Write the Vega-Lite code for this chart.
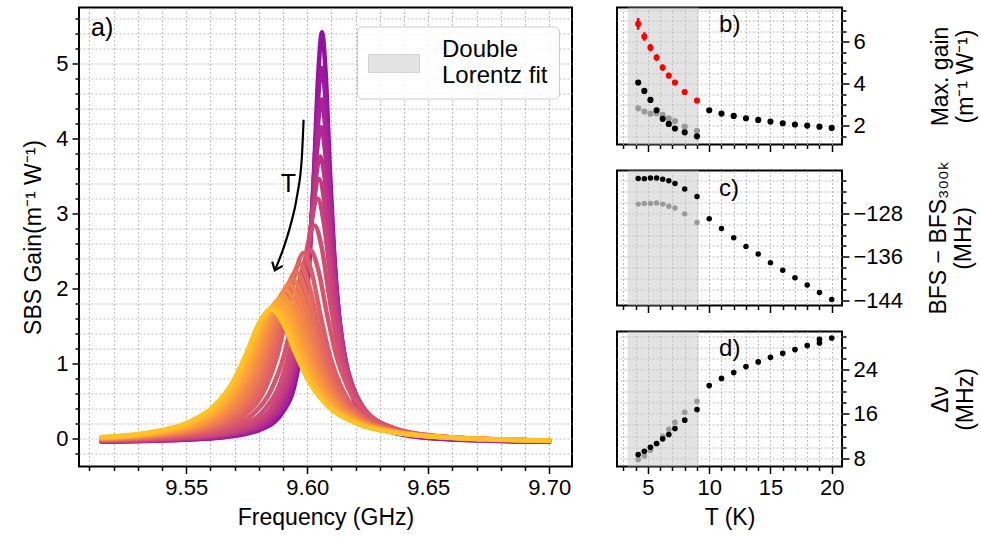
{
  "$schema": "https://vega.github.io/schema/vega-lite/v6.json",
  "background": "white",
  "padding": {"left": 21, "top": 6.5, "right": 0, "bottom": 0},
  "config": {
    "font": "Liberation Sans",
    "view": {"stroke": "black", "strokeWidth": 2},
    "axis": {
      "domain": false,
      "labelFont": "Liberation Sans", "labelFontSize": 22, "labelColor": "black",
      "titleFont": "Liberation Sans", "titleFontSize": 23, "titleFontWeight": "normal", "titleColor": "black",
      "tickColor": "black", "tickWidth": 1.5, "tickCount": 200,
      "gridColor": "#b5b5b5", "gridDash": [2, 2], "gridWidth": 0.9,
      "labelFlush": false, "labelOverlap": false, "labelPadding": 4
    },
    "text": {"font": "Liberation Sans", "color": "black"}
  },
  "datasets": {
    "spec": [
      {"T":4.2,"f":9.515,"g":-0.046},{"T":4.2,"f":9.5371,"g":-0.036},{"T":4.2,"f":9.5647,"g":0.007},{"T":4.2,"f":9.5808,"g":0.115},{"T":4.2,"f":9.59,"g":0.354},{"T":4.2,"f":9.5951,"g":0.75},{"T":4.2,"f":9.5987,"g":1.479},{"T":4.2,"f":9.601,"g":2.42},{"T":4.2,"f":9.6029,"g":3.618},{"T":4.2,"f":9.6045,"g":4.822},{"T":4.2,"f":9.6061,"g":5.42},{"T":4.2,"f":9.6077,"g":4.822},{"T":4.2,"f":9.6093,"g":3.618},{"T":4.2,"f":9.6112,"g":2.42},{"T":4.2,"f":9.6135,"g":1.479},{"T":4.2,"f":9.6171,"g":0.75},{"T":4.2,"f":9.6222,"g":0.354},{"T":4.2,"f":9.6314,"g":0.115},{"T":4.2,"f":9.6475,"g":0.007},{"T":4.2,"f":9.6751,"g":-0.036},{"T":4.2,"f":9.7,"g":-0.047},
      {"T":4.7,"f":9.515,"g":-0.045},{"T":4.7,"f":9.5303,"g":-0.038},{"T":4.7,"f":9.5606,"g":0.001},{"T":4.7,"f":9.5782,"g":0.1},{"T":4.7,"f":9.5883,"g":0.318},{"T":4.7,"f":9.5939,"g":0.68},{"T":4.7,"f":9.5979,"g":1.345},{"T":4.7,"f":9.6004,"g":2.203},{"T":4.7,"f":9.6025,"g":3.296},{"T":4.7,"f":9.6042,"g":4.395},{"T":4.7,"f":9.606,"g":4.94},{"T":4.7,"f":9.6078,"g":4.395},{"T":4.7,"f":9.6095,"g":3.296},{"T":4.7,"f":9.6116,"g":2.203},{"T":4.7,"f":9.6141,"g":1.345},{"T":4.7,"f":9.6181,"g":0.68},{"T":4.7,"f":9.6237,"g":0.318},{"T":4.7,"f":9.6338,"g":0.1},{"T":4.7,"f":9.6515,"g":0.001},{"T":4.7,"f":9.6818,"g":-0.038},{"T":4.7,"f":9.7,"g":-0.046},
      {"T":5.2,"f":9.515,"g":-0.043},{"T":5.2,"f":9.5234,"g":-0.04},{"T":5.2,"f":9.5564,"g":-0.004},{"T":5.2,"f":9.5757,"g":0.087},{"T":5.2,"f":9.5866,"g":0.286},{"T":5.2,"f":9.5927,"g":0.617},{"T":5.2,"f":9.5971,"g":1.227},{"T":5.2,"f":9.5998,"g":2.012},{"T":5.2,"f":9.602,"g":3.014},{"T":5.2,"f":9.604,"g":4.02},{"T":5.2,"f":9.6059,"g":4.52},{"T":5.2,"f":9.6078,"g":4.02},{"T":5.2,"f":9.6098,"g":3.014},{"T":5.2,"f":9.612,"g":2.012},{"T":5.2,"f":9.6147,"g":1.227},{"T":5.2,"f":9.6191,"g":0.617},{"T":5.2,"f":9.6252,"g":0.286},{"T":5.2,"f":9.6361,"g":0.087},{"T":5.2,"f":9.6554,"g":-0.004},{"T":5.2,"f":9.6884,"g":-0.04},{"T":5.2,"f":9.7,"g":-0.044},
      {"T":5.7,"f":9.515,"g":-0.042},{"T":5.7,"f":9.5517,"g":-0.009},{"T":5.7,"f":9.5727,"g":0.075},{"T":5.7,"f":9.5847,"g":0.258},{"T":5.7,"f":9.5913,"g":0.563},{"T":5.7,"f":9.5961,"g":1.123},{"T":5.7,"f":9.5991,"g":1.845},{"T":5.7,"f":9.6015,"g":2.765},{"T":5.7,"f":9.6036,"g":3.691},{"T":5.7,"f":9.6057,"g":4.15},{"T":5.7,"f":9.6078,"g":3.691},{"T":5.7,"f":9.6099,"g":2.765},{"T":5.7,"f":9.6123,"g":1.845},{"T":5.7,"f":9.6153,"g":1.123},{"T":5.7,"f":9.6201,"g":0.563},{"T":5.7,"f":9.6267,"g":0.258},{"T":5.7,"f":9.6387,"g":0.075},{"T":5.7,"f":9.6597,"g":-0.009},{"T":5.7,"f":9.6957,"g":-0.041},{"T":5.7,"f":9.7,"g":-0.043},
      {"T":6.2,"f":9.515,"g":-0.04},{"T":6.2,"f":9.546,"g":-0.013},{"T":6.2,"f":9.5691,"g":0.062},{"T":6.2,"f":9.5823,"g":0.228},{"T":6.2,"f":9.5896,"g":0.505},{"T":6.2,"f":9.5948,"g":1.013},{"T":6.2,"f":9.5981,"g":1.669},{"T":6.2,"f":9.6008,"g":2.504},{"T":6.2,"f":9.6031,"g":3.343},{"T":6.2,"f":9.6054,"g":3.76},{"T":6.2,"f":9.6077,"g":3.343},{"T":6.2,"f":9.61,"g":2.504},{"T":6.2,"f":9.6127,"g":1.669},{"T":6.2,"f":9.616,"g":1.013},{"T":6.2,"f":9.6212,"g":0.505},{"T":6.2,"f":9.6285,"g":0.228},{"T":6.2,"f":9.6417,"g":0.062},{"T":6.2,"f":9.6648,"g":-0.013},{"T":6.2,"f":9.7,"g":-0.041},
      {"T":6.7,"f":9.515,"g":-0.038},{"T":6.7,"f":9.5406,"g":-0.017},{"T":6.7,"f":9.5656,"g":0.053},{"T":6.7,"f":9.5799,"g":0.206},{"T":6.7,"f":9.5877,"g":0.461},{"T":6.7,"f":9.5935,"g":0.929},{"T":6.7,"f":9.597,"g":1.533},{"T":6.7,"f":9.5999,"g":2.302},{"T":6.7,"f":9.6024,"g":3.076},{"T":6.7,"f":9.6049,"g":3.46},{"T":6.7,"f":9.6074,"g":3.076},{"T":6.7,"f":9.6099,"g":2.302},{"T":6.7,"f":9.6128,"g":1.533},{"T":6.7,"f":9.6163,"g":0.929},{"T":6.7,"f":9.6221,"g":0.461},{"T":6.7,"f":9.6299,"g":0.206},{"T":6.7,"f":9.6442,"g":0.053},{"T":6.7,"f":9.6693,"g":-0.017},{"T":6.7,"f":9.7,"g":-0.04},
      {"T":7.2,"f":9.515,"g":-0.036},{"T":7.2,"f":9.5346,"g":-0.02},{"T":7.2,"f":9.5617,"g":0.044},{"T":7.2,"f":9.5772,"g":0.186},{"T":7.2,"f":9.5857,"g":0.422},{"T":7.2,"f":9.5919,"g":0.856},{"T":7.2,"f":9.5958,"g":1.415},{"T":7.2,"f":9.5989,"g":2.128},{"T":7.2,"f":9.6016,"g":2.844},{"T":7.2,"f":9.6043,"g":3.2},{"T":7.2,"f":9.607,"g":2.844},{"T":7.2,"f":9.6097,"g":2.128},{"T":7.2,"f":9.6128,"g":1.415},{"T":7.2,"f":9.6167,"g":0.856},{"T":7.2,"f":9.6229,"g":0.422},{"T":7.2,"f":9.6314,"g":0.186},{"T":7.2,"f":9.6469,"g":0.044},{"T":7.2,"f":9.6741,"g":-0.02},{"T":7.2,"f":9.7,"g":-0.039},
      {"T":8,"f":9.515,"g":-0.032},{"T":8,"f":9.5247,"g":-0.025},{"T":8,"f":9.5552,"g":0.033},{"T":8,"f":9.5725,"g":0.159},{"T":8,"f":9.5821,"g":0.369},{"T":8,"f":9.5891,"g":0.755},{"T":8,"f":9.5934,"g":1.252},{"T":8,"f":9.5969,"g":1.886},{"T":8,"f":9.5999,"g":2.524},{"T":8,"f":9.603,"g":2.84},{"T":8,"f":9.6061,"g":2.524},{"T":8,"f":9.6091,"g":1.886},{"T":8,"f":9.6126,"g":1.252},{"T":8,"f":9.6169,"g":0.755},{"T":8,"f":9.6239,"g":0.369},{"T":8,"f":9.6335,"g":0.159},{"T":8,"f":9.6509,"g":0.033},{"T":8,"f":9.6813,"g":-0.025},{"T":8,"f":9.7,"g":-0.037},
      {"T":9,"f":9.515,"g":-0.027},{"T":9,"f":9.547,"g":0.022},{"T":9,"f":9.5667,"g":0.134},{"T":9,"f":9.5776,"g":0.32},{"T":9,"f":9.5854,"g":0.662},{"T":9,"f":9.5904,"g":1.103},{"T":9,"f":9.5943,"g":1.665},{"T":9,"f":9.5978,"g":2.23},{"T":9,"f":9.6012,"g":2.51},{"T":9,"f":9.6047,"g":2.23},{"T":9,"f":9.6081,"g":1.665},{"T":9,"f":9.612,"g":1.103},{"T":9,"f":9.617,"g":0.662},{"T":9,"f":9.6248,"g":0.32},{"T":9,"f":9.6357,"g":0.134},{"T":9,"f":9.6554,"g":0.022},{"T":9,"f":9.6899,"g":-0.029},{"T":9,"f":9.7,"g":-0.035},
      {"T":10,"f":9.515,"g":-0.024},{"T":10,"f":9.5435,"g":0.021},{"T":10,"f":9.5635,"g":0.131},{"T":10,"f":9.5745,"g":0.314},{"T":10,"f":9.5825,"g":0.651},{"T":10,"f":9.5875,"g":1.085},{"T":10,"f":9.5915,"g":1.638},{"T":10,"f":9.595,"g":2.194},{"T":10,"f":9.5985,"g":2.47},{"T":10,"f":9.602,"g":2.194},{"T":10,"f":9.6055,"g":1.638},{"T":10,"f":9.6095,"g":1.085},{"T":10,"f":9.6145,"g":0.651},{"T":10,"f":9.6225,"g":0.314},{"T":10,"f":9.6335,"g":0.131},{"T":10,"f":9.6535,"g":0.021},{"T":10,"f":9.6885,"g":-0.029},{"T":10,"f":9.7,"g":-0.036},
      {"T":11,"f":9.515,"g":-0.02},{"T":11,"f":9.5383,"g":0.016},{"T":11,"f":9.5596,"g":0.12},{"T":11,"f":9.5713,"g":0.292},{"T":11,"f":9.5799,"g":0.609},{"T":11,"f":9.5852,"g":1.017},{"T":11,"f":9.5894,"g":1.537},{"T":11,"f":9.5932,"g":2.06},{"T":11,"f":9.5969,"g":2.32},{"T":11,"f":9.6006,"g":2.06},{"T":11,"f":9.6044,"g":1.537},{"T":11,"f":9.6086,"g":1.017},{"T":11,"f":9.6139,"g":0.609},{"T":11,"f":9.6225,"g":0.292},{"T":11,"f":9.6342,"g":0.12},{"T":11,"f":9.6555,"g":0.016},{"T":11,"f":9.6928,"g":-0.031},{"T":11,"f":9.7,"g":-0.035},
      {"T":12,"f":9.515,"g":-0.017},{"T":12,"f":9.5344,"g":0.013},{"T":12,"f":9.5566,"g":0.112},{"T":12,"f":9.5688,"g":0.277},{"T":12,"f":9.5776,"g":0.58},{"T":12,"f":9.5832,"g":0.972},{"T":12,"f":9.5876,"g":1.47},{"T":12,"f":9.5915,"g":1.971},{"T":12,"f":9.5954,"g":2.22},{"T":12,"f":9.5993,"g":1.971},{"T":12,"f":9.6032,"g":1.47},{"T":12,"f":9.6076,"g":0.972},{"T":12,"f":9.6132,"g":0.58},{"T":12,"f":9.622,"g":0.277},{"T":12,"f":9.6343,"g":0.112},{"T":12,"f":9.6565,"g":0.013},{"T":12,"f":9.6953,"g":-0.032},{"T":12,"f":9.7,"g":-0.035},
      {"T":13,"f":9.515,"g":-0.014},{"T":13,"f":9.5299,"g":0.01},{"T":13,"f":9.5532,"g":0.105},{"T":13,"f":9.566,"g":0.262},{"T":13,"f":9.5754,"g":0.552},{"T":13,"f":9.5812,"g":0.926},{"T":13,"f":9.5858,"g":1.403},{"T":13,"f":9.5899,"g":1.882},{"T":13,"f":9.594,"g":2.12},{"T":13,"f":9.5981,"g":1.882},{"T":13,"f":9.6022,"g":1.403},{"T":13,"f":9.6068,"g":0.926},{"T":13,"f":9.6126,"g":0.552},{"T":13,"f":9.622,"g":0.262},{"T":13,"f":9.6348,"g":0.105},{"T":13,"f":9.6581,"g":0.01},{"T":13,"f":9.6989,"g":-0.033},{"T":13,"f":9.7,"g":-0.034},
      {"T":14,"f":9.515,"g":-0.011},{"T":14,"f":9.5266,"g":0.008},{"T":14,"f":9.5506,"g":0.099},{"T":14,"f":9.5638,"g":0.252},{"T":14,"f":9.5734,"g":0.533},{"T":14,"f":9.5794,"g":0.895},{"T":14,"f":9.5842,"g":1.356},{"T":14,"f":9.5884,"g":1.82},{"T":14,"f":9.5926,"g":2.05},{"T":14,"f":9.5968,"g":1.82},{"T":14,"f":9.601,"g":1.356},{"T":14,"f":9.6058,"g":0.895},{"T":14,"f":9.6118,"g":0.533},{"T":14,"f":9.6214,"g":0.252},{"T":14,"f":9.6346,"g":0.099},{"T":14,"f":9.6586,"g":0.008},{"T":14,"f":9.7,"g":-0.034},
      {"T":15,"f":9.515,"g":-0.007},{"T":15,"f":9.5225,"g":0.005},{"T":15,"f":9.5475,"g":0.093},{"T":15,"f":9.5612,"g":0.24},{"T":15,"f":9.5712,"g":0.51},{"T":15,"f":9.5775,"g":0.859},{"T":15,"f":9.5825,"g":1.302},{"T":15,"f":9.5868,"g":1.749},{"T":15,"f":9.5912,"g":1.97},{"T":15,"f":9.5956,"g":1.749},{"T":15,"f":9.6,"g":1.302},{"T":15,"f":9.605,"g":0.859},{"T":15,"f":9.6112,"g":0.51},{"T":15,"f":9.6212,"g":0.24},{"T":15,"f":9.635,"g":0.093},{"T":15,"f":9.66,"g":0.005},{"T":15,"f":9.7,"g":-0.034},
      {"T":16,"f":9.515,"g":-0.003},{"T":16,"f":9.5187,"g":0.003},{"T":16,"f":9.5446,"g":0.088},{"T":16,"f":9.5588,"g":0.23},{"T":16,"f":9.5692,"g":0.491},{"T":16,"f":9.5757,"g":0.827},{"T":16,"f":9.5808,"g":1.255},{"T":16,"f":9.5854,"g":1.686},{"T":16,"f":9.5899,"g":1.9},{"T":16,"f":9.5944,"g":1.686},{"T":16,"f":9.599,"g":1.255},{"T":16,"f":9.6042,"g":0.827},{"T":16,"f":9.6106,"g":0.491},{"T":16,"f":9.621,"g":0.23},{"T":16,"f":9.6352,"g":0.088},{"T":16,"f":9.6611,"g":0.003},{"T":16,"f":9.7,"g":-0.033},
      {"T":17,"f":9.515,"g":0.0},{"T":17,"f":9.542,"g":0.084},{"T":17,"f":9.5567,"g":0.222},{"T":17,"f":9.5673,"g":0.477},{"T":17,"f":9.574,"g":0.804},{"T":17,"f":9.5793,"g":1.222},{"T":17,"f":9.5839,"g":1.642},{"T":17,"f":9.5886,"g":1.85},{"T":17,"f":9.5933,"g":1.642},{"T":17,"f":9.5979,"g":1.222},{"T":17,"f":9.6032,"g":0.804},{"T":17,"f":9.6099,"g":0.477},{"T":17,"f":9.6205,"g":0.222},{"T":17,"f":9.6352,"g":0.084},{"T":17,"f":9.6617,"g":0.001},{"T":17,"f":9.7,"g":-0.033},
      {"T":18,"f":9.515,"g":0.004},{"T":18,"f":9.5396,"g":0.08},{"T":18,"f":9.5546,"g":0.215},{"T":18,"f":9.5656,"g":0.462},{"T":18,"f":9.5724,"g":0.782},{"T":18,"f":9.5778,"g":1.188},{"T":18,"f":9.5826,"g":1.597},{"T":18,"f":9.5874,"g":1.8},{"T":18,"f":9.5922,"g":1.597},{"T":18,"f":9.597,"g":1.188},{"T":18,"f":9.6024,"g":0.782},{"T":18,"f":9.6092,"g":0.462},{"T":18,"f":9.6202,"g":0.215},{"T":18,"f":9.6352,"g":0.08},{"T":18,"f":9.6625,"g":-0.001},{"T":18,"f":9.7,"g":-0.033},
      {"T":19,"f":9.515,"g":0.008},{"T":19,"f":9.537,"g":0.077},{"T":19,"f":9.5525,"g":0.208},{"T":19,"f":9.5637,"g":0.448},{"T":19,"f":9.5707,"g":0.759},{"T":19,"f":9.5764,"g":1.155},{"T":19,"f":9.5813,"g":1.553},{"T":19,"f":9.5862,"g":1.75},{"T":19,"f":9.5911,"g":1.553},{"T":19,"f":9.596,"g":1.155},{"T":19,"f":9.6017,"g":0.759},{"T":19,"f":9.6087,"g":0.448},{"T":19,"f":9.6199,"g":0.208},{"T":19,"f":9.6354,"g":0.077},{"T":19,"f":9.6635,"g":-0.002},{"T":19,"f":9.7,"g":-0.033},
      {"T":20,"f":9.515,"g":0.013},{"T":20,"f":9.5344,"g":0.074},{"T":20,"f":9.5503,"g":0.203},{"T":20,"f":9.5619,"g":0.44},{"T":20,"f":9.5691,"g":0.745},{"T":20,"f":9.5749,"g":1.135},{"T":20,"f":9.5799,"g":1.526},{"T":20,"f":9.585,"g":1.72},{"T":20,"f":9.5901,"g":1.526},{"T":20,"f":9.5951,"g":1.135},{"T":20,"f":9.6009,"g":0.745},{"T":20,"f":9.6081,"g":0.44},{"T":20,"f":9.6197,"g":0.203},{"T":20,"f":9.6356,"g":0.074},{"T":20,"f":9.6645,"g":-0.003},{"T":20,"f":9.7,"g":-0.032}
    ],
    "pts": [
      {"p":"b","s":"g","T":4.2,"v":2.82},{"p":"b","s":"g","T":4.7,"v":2.67},{"p":"b","s":"g","T":5.2,"v":2.57},{"p":"b","s":"g","T":5.7,"v":2.59},{"p":"b","s":"g","T":6.2,"v":2.51},{"p":"b","s":"g","T":6.7,"v":2.35},{"p":"b","s":"g","T":7.2,"v":2.22},{"p":"b","s":"g","T":8,"v":1.95},{"p":"b","s":"g","T":9,"v":1.75},
      {"p":"b","s":"k","T":4.2,"v":4.05},{"p":"b","s":"k","T":4.7,"v":3.65},{"p":"b","s":"k","T":5.2,"v":3.22},{"p":"b","s":"k","T":5.7,"v":2.73},{"p":"b","s":"k","T":6.2,"v":2.32},{"p":"b","s":"k","T":6.7,"v":2.08},{"p":"b","s":"k","T":7.2,"v":1.86},{"p":"b","s":"k","T":8,"v":1.68},{"p":"b","s":"k","T":9,"v":1.49},{"p":"b","s":"k","T":10,"v":2.73},{"p":"b","s":"k","T":11,"v":2.57},{"p":"b","s":"k","T":12,"v":2.46},{"p":"b","s":"k","T":13,"v":2.35},{"p":"b","s":"k","T":14,"v":2.27},{"p":"b","s":"k","T":15,"v":2.19},{"p":"b","s":"k","T":16,"v":2.11},{"p":"b","s":"k","T":17,"v":2.05},{"p":"b","s":"k","T":18,"v":2.0},{"p":"b","s":"k","T":19,"v":1.95},{"p":"b","s":"k","T":20,"v":1.89},
      {"p":"b","s":"r","T":4.2,"v":6.84,"lo":6.56,"hi":7.12},{"p":"b","s":"r","T":4.7,"v":6.24,"lo":6.04,"hi":6.44},{"p":"b","s":"r","T":5.2,"v":5.71,"lo":5.53,"hi":5.89},{"p":"b","s":"r","T":5.7,"v":5.24,"lo":5.08,"hi":5.4},{"p":"b","s":"r","T":6.2,"v":4.76,"lo":4.61,"hi":4.91},{"p":"b","s":"r","T":6.7,"v":4.38,"lo":4.25,"hi":4.51},{"p":"b","s":"r","T":7.2,"v":4.05,"lo":3.93,"hi":4.17},{"p":"b","s":"r","T":8,"v":3.6,"lo":3.5,"hi":3.7},{"p":"b","s":"r","T":9,"v":3.19,"lo":3.09,"hi":3.29},
      {"p":"c","s":"g","T":4.2,"v":-126.3},{"p":"c","s":"g","T":4.7,"v":-126.2},{"p":"c","s":"g","T":5.2,"v":-126.2},{"p":"c","s":"g","T":5.7,"v":-126.1},{"p":"c","s":"g","T":6.2,"v":-126.3},{"p":"c","s":"g","T":6.7,"v":-126.7},{"p":"c","s":"g","T":7.2,"v":-127.0},{"p":"c","s":"g","T":8,"v":-128.1},{"p":"c","s":"g","T":9,"v":-129.7},
      {"p":"c","s":"k","T":4.2,"v":-121.57},{"p":"c","s":"k","T":4.7,"v":-121.6},{"p":"c","s":"k","T":5.2,"v":-121.5},{"p":"c","s":"k","T":5.7,"v":-121.5},{"p":"c","s":"k","T":6.2,"v":-121.7},{"p":"c","s":"k","T":6.7,"v":-122.0},{"p":"c","s":"k","T":7.2,"v":-122.5},{"p":"c","s":"k","T":8,"v":-123.5},{"p":"c","s":"k","T":9,"v":-124.9},{"p":"c","s":"k","T":10,"v":-129.0},{"p":"c","s":"k","T":11,"v":-130.8},{"p":"c","s":"k","T":12,"v":-132.5},{"p":"c","s":"k","T":13,"v":-134.1},{"p":"c","s":"k","T":14,"v":-135.5},{"p":"c","s":"k","T":15,"v":-137.1},{"p":"c","s":"k","T":16,"v":-138.5},{"p":"c","s":"k","T":17,"v":-139.9},{"p":"c","s":"k","T":18,"v":-141.2},{"p":"c","s":"k","T":19,"v":-142.6},{"p":"c","s":"k","T":20,"v":-143.9},
      {"p":"d","s":"g","T":4.2,"v":7.75},{"p":"d","s":"g","T":4.7,"v":8.41},{"p":"d","s":"g","T":5.2,"v":9.43},{"p":"d","s":"g","T":5.7,"v":10.65},{"p":"d","s":"g","T":6.2,"v":11.96},{"p":"d","s":"g","T":6.7,"v":13.22},{"p":"d","s":"g","T":7.2,"v":14.49},{"p":"d","s":"g","T":8,"v":16.3},{"p":"d","s":"g","T":9,"v":18.28},
      {"p":"d","s":"k","T":4.2,"v":8.66},{"p":"d","s":"k","T":4.7,"v":9.26},{"p":"d","s":"k","T":5.2,"v":9.98},{"p":"d","s":"k","T":5.7,"v":10.65},{"p":"d","s":"k","T":6.2,"v":11.5},{"p":"d","s":"k","T":6.7,"v":12.27},{"p":"d","s":"k","T":7.2,"v":13.36},{"p":"d","s":"k","T":8,"v":14.86},{"p":"d","s":"k","T":9,"v":16.79},{"p":"d","s":"k","T":10,"v":21.1},{"p":"d","s":"k","T":11,"v":22.4},{"p":"d","s":"k","T":12,"v":23.46},{"p":"d","s":"k","T":13,"v":24.54},{"p":"d","s":"k","T":14,"v":25.38},{"p":"d","s":"k","T":15,"v":26.2},{"p":"d","s":"k","T":16,"v":26.93},{"p":"d","s":"k","T":17,"v":27.6},{"p":"d","s":"k","T":18,"v":28.33},{"p":"d","s":"k","T":19,"v":28.8},{"p":"d","s":"k","T":19,"v":29.47},{"p":"d","s":"k","T":20,"v":29.7}
    ]
  },
  "hconcat": [
    {
      "width": 493,
      "height": 459,
      "layer": [
        {
          "data": {"name": "spec"},
          "mark": {"type": "line", "strokeWidth": 4.5, "strokeJoin": "round", "strokeCap": "round", "interpolate": "monotone"},
          "encoding": {
            "x": {"field": "f", "type": "quantitative", "scale": {"domain": [9.5057, 9.7094], "nice": false, "zero": false},
              "axis": {"title": "Frequency (GHz)", "values": [9.51,9.52,9.53,9.54,9.55,9.56,9.57,9.58,9.59,9.6,9.61,9.62,9.63,9.64,9.65,9.66,9.67,9.68,9.69,9.7],
                "labelExpr": "round(datum.value*100) % 5 == 0 ? format(datum.value, '.2f') : ''",
                "labelFontSize": {"condition": {"test": "round(datum.value*100) % 5 == 0", "value": 22}, "value": 0},
                "tickSize": {"condition": {"test": "round(datum.value*100) % 5 == 0", "value": 7}, "value": 4},
                "grid": true, "titlePadding": 8}},
            "y": {"field": "g", "type": "quantitative", "scale": {"domain": [-0.38, 5.75], "nice": false, "zero": false},
              "axis": {"title": "SBS Gain(m⁻¹ W⁻¹)", "values": [-0.2,0,0.2,0.4,0.6,0.8,1,1.2,1.4,1.6,1.8,2,2.2,2.4,2.6,2.8,3,3.2,3.4,3.6,3.8,4,4.2,4.4,4.6,4.8,5,5.2,5.4,5.6],
                "labelExpr": "abs(datum.value - round(datum.value)) < 0.001 ? format(datum.value, 'd') : ''",
                "labelFontSize": {"condition": {"test": "abs(datum.value - round(datum.value)) < 0.001", "value": 22}, "value": 0},
                "tickSize": {"condition": {"test": "abs(datum.value - round(datum.value)) < 0.001", "value": 7}, "value": 4},
                "grid": true, "titlePadding": 10}},
            "color": {"field": "T", "type": "ordinal", "scale": {"scheme": {"name": "plasma", "extent": [0.28, 0.9]}}, "legend": null}
          }
        },
        {
          "data": {"values": [{"f":9.5985,"g":4.25},{"f":9.5978,"g":3.76},{"f":9.5959,"g":3.25},{"f":9.593,"g":2.83},{"f":9.5899,"g":2.51},{"f":9.5868,"g":2.25}]},
          "mark": {"type": "line", "color": "black", "strokeWidth": 2.2, "interpolate": "monotone"},
          "encoding": {"x": {"field": "f", "type": "quantitative"}, "y": {"field": "g", "type": "quantitative"}}
        },
        {
          "data": {"values": [{"f":9.5866,"g":2.24}]},
          "mark": {"type": "point", "shape": "M-1,-0.8L0,0L-1,0.8", "filled": false, "color": "black", "strokeWidth": 2.2, "size": 200, "angle": 112, "opacity": 1},
          "encoding": {"x": {"field": "f", "type": "quantitative"}, "y": {"field": "g", "type": "quantitative"}}
        },
        {
          "data": {"values": [{"f":9.5922,"g":3.39,"t":"T"},{"f":9.5153,"g":5.47,"t":"a)"}]},
          "mark": {"type": "text", "fontSize": 25, "align": "center", "baseline": "middle"},
          "encoding": {"x": {"field": "f", "type": "quantitative"}, "y": {"field": "g", "type": "quantitative"}, "text": {"field": "t"},
            "align": {"condition": {"test": "datum.t == 'a)'", "value": "left"}, "value": "center"}}
        },
        {
          "data": {"values": [{"lab": "Double Lorentz fit"}]},
          "mark": {"type": "square", "size": 0, "filled": true},
          "encoding": {
            "fill": {"field": "lab", "type": "nominal", "scale": {"range": ["#e3e3e3"]},
              "legend": {"title": null, "orient": "none", "legendX": 278, "legendY": 19,
                "symbolType": "M-1,-0.353H1V0.353H-1Z", "symbolSize": 2601, "symbolStrokeColor": "#d2d2d2", "symbolStrokeWidth": 1, "symbolOpacity": 1,
                "labelExpr": "['Double', ' Lorentz fit']", "labelFontSize": 24, "labelFont": "Liberation Sans", "labelColor": "black", "labelLimit": 400, "labelOffset": 22,
                "padding": 11, "fillColor": "rgba(255,255,255,0.85)", "strokeColor": "#cccccc", "cornerRadius": 5,
                "encode": {"labels": {"update": {"dy": {"value": -14}}}}}}
          }
        }
      ]
    },
    {
      "vconcat": [
        {
          "width": 225, "height": 137,
          "layer": [
            {"data": {"values": [{"a": 3.33, "b": 9.15}]}, "mark": {"type": "rect", "color": "#c8c8c8", "opacity": 0.5},
              "encoding": {"x": {"field": "a", "type": "quantitative", "scale": {"domain": [2.47, 20.84], "nice": false, "zero": false}}, "x2": {"field": "b"}}},
            {"data": {"name": "pts"}, "transform": [{"filter": "datum.p == 'b' && isValid(datum.lo)"}],
              "mark": {"type": "rule", "color": "#ff0000", "strokeWidth": 2.5},
              "encoding": {"x": {"field": "T", "type": "quantitative"}, "y": {"field": "lo", "type": "quantitative"}, "y2": {"field": "hi"}}},
            {"data": {"name": "pts"}, "transform": [{"filter": "datum.p == 'b'"}],
              "mark": {"type": "circle", "size": 38, "opacity": 1},
              "encoding": {
                "x": {"field": "T", "type": "quantitative", "scale": {"domain": [2.47, 20.84], "nice": false, "zero": false},
                  "axis": {"title": null, "values": [3,4,5,6,7,8,9,10,11,12,13,14,15,16,17,18,19,20], "labels": false,
                    "tickSize": {"condition": {"test": "datum.value % 5 == 0", "value": 7}, "value": 4}, "grid": true}},
                "y": {"field": "v", "type": "quantitative", "scale": {"domain": [1.1, 7.62], "nice": false, "zero": false},
                  "axis": {"orient": "right", "title": ["Max. gain", "(m⁻¹ W⁻¹)"], "titleAngle": 270, "titlePadding": 62,
                    "values": [1.5,2,2.5,3,3.5,4,4.5,5,5.5,6,6.5,7,7.5],
                    "labelExpr": "round(datum.value*2) % 4 == 0 ? format(datum.value, 'd') : ''",
                    "labelFontSize": {"condition": {"test": "round(datum.value*2) % 4 == 0", "value": 22}, "value": 0},
                    "tickSize": {"condition": {"test": "round(datum.value*2) % 4 == 0", "value": 7}, "value": 4}, "grid": true}},
                "color": {"field": "s", "type": "nominal", "scale": {"domain": ["g","k","r"], "range": ["#9a9a9a","#000000","#ff0000"]}, "legend": null}
              }},
            {"data": {"values": [{"x": 10.8, "y": 6.8, "t": "b)"}]}, "mark": {"type": "text", "fontSize": 24, "align": "left", "baseline": "middle"},
              "encoding": {"x": {"field": "x", "type": "quantitative"}, "y": {"field": "y", "type": "quantitative"}, "text": {"field": "t"}}}
          ]
        },
        {
          "width": 225, "height": 135,
          "layer": [
            {"data": {"values": [{"a": 3.33, "b": 9.15}]}, "mark": {"type": "rect", "color": "#c8c8c8", "opacity": 0.5},
              "encoding": {"x": {"field": "a", "type": "quantitative", "scale": {"domain": [2.47, 20.84], "nice": false, "zero": false}}, "x2": {"field": "b"}}},
            {"data": {"name": "pts"}, "transform": [{"filter": "datum.p == 'c'"}],
              "mark": {"type": "circle", "size": 30, "opacity": 1},
              "encoding": {
                "x": {"field": "T", "type": "quantitative", "scale": {"domain": [2.47, 20.84], "nice": false, "zero": false},
                  "axis": {"title": null, "values": [3,4,5,6,7,8,9,10,11,12,13,14,15,16,17,18,19,20], "labels": false,
                    "tickSize": {"condition": {"test": "datum.value % 5 == 0", "value": 7}, "value": 4}, "grid": true}},
                "y": {"field": "v", "type": "quantitative", "scale": {"domain": [-145.0, -120.1], "nice": false, "zero": false},
                  "axis": {"orient": "right", "title": ["BFS − BFS₃₀₀ₖ", "(MHz)"], "titleAngle": 270, "titlePadding": 23,
                    "values": [-144,-142,-140,-138,-136,-134,-132,-130,-128,-126,-124,-122],
                    "labelExpr": "(datum.value + 144) % 8 == 0 ? format(datum.value, 'd') : ''",
                    "labelFontSize": {"condition": {"test": "(datum.value + 144) % 8 == 0", "value": 22}, "value": 0},
                    "tickSize": {"condition": {"test": "(datum.value + 144) % 8 == 0", "value": 7}, "value": 4}, "grid": true}},
                "color": {"field": "s", "type": "nominal", "scale": {"domain": ["g","k","r"], "range": ["#9a9a9a","#000000","#ff0000"]}, "legend": null}
              }},
            {"data": {"values": [{"x": 10.8, "y": -123.5, "t": "c)"}]}, "mark": {"type": "text", "fontSize": 24, "align": "left", "baseline": "middle"},
              "encoding": {"x": {"field": "x", "type": "quantitative"}, "y": {"field": "y", "type": "quantitative"}, "text": {"field": "t"}}}
          ]
        },
        {
          "width": 225, "height": 135,
          "layer": [
            {"data": {"values": [{"a": 3.33, "b": 9.15}]}, "mark": {"type": "rect", "color": "#c8c8c8", "opacity": 0.5},
              "encoding": {"x": {"field": "a", "type": "quantitative", "scale": {"domain": [2.47, 20.84], "nice": false, "zero": false}}, "x2": {"field": "b"}}},
            {"data": {"name": "pts"}, "transform": [{"filter": "datum.p == 'd'"}],
              "mark": {"type": "circle", "size": 32, "opacity": 1},
              "encoding": {
                "x": {"field": "T", "type": "quantitative", "scale": {"domain": [2.47, 20.84], "nice": false, "zero": false},
                  "axis": {"title": "T (K)", "values": [3,4,5,6,7,8,9,10,11,12,13,14,15,16,17,18,19,20],
                    "labelExpr": "datum.value % 5 == 0 ? format(datum.value, 'd') : ''",
                    "labelFontSize": {"condition": {"test": "datum.value % 5 == 0", "value": 22}, "value": 0},
                    "tickSize": {"condition": {"test": "datum.value % 5 == 0", "value": 7}, "value": 4}, "grid": true, "titlePadding": 8}},
                "y": {"field": "v", "type": "quantitative", "scale": {"domain": [6.5, 30.87], "nice": false, "zero": false},
                  "axis": {"orient": "right", "title": ["Δν", "(MHz)"], "titleAngle": 270, "titlePadding": 50,
                    "values": [8,10,12,14,16,18,20,22,24,26,28,30],
                    "labelExpr": "datum.value % 8 == 0 ? format(datum.value, 'd') : ''",
                    "labelFontSize": {"condition": {"test": "datum.value % 8 == 0", "value": 22}, "value": 0},
                    "tickSize": {"condition": {"test": "datum.value % 8 == 0", "value": 7}, "value": 4}, "grid": true}},
                "color": {"field": "s", "type": "nominal", "scale": {"domain": ["g","k","r"], "range": ["#9a9a9a","#000000","#ff0000"]}, "legend": null}
              }},
            {"data": {"values": [{"x": 10.8, "y": 27.7, "t": "d)"}]}, "mark": {"type": "text", "fontSize": 24, "align": "left", "baseline": "middle"},
              "encoding": {"x": {"field": "x", "type": "quantitative"}, "y": {"field": "y", "type": "quantitative"}, "text": {"field": "t"}}}
          ]
        }
      ],
      "spacing": 26,
      "bounds": "flush"
    }
  ],
  "spacing": 45,
  "bounds": "flush",
  "resolve": {"scale": {"color": "independent", "fill": "independent"}, "legend": {"color": "independent", "fill": "independent"}}
}
